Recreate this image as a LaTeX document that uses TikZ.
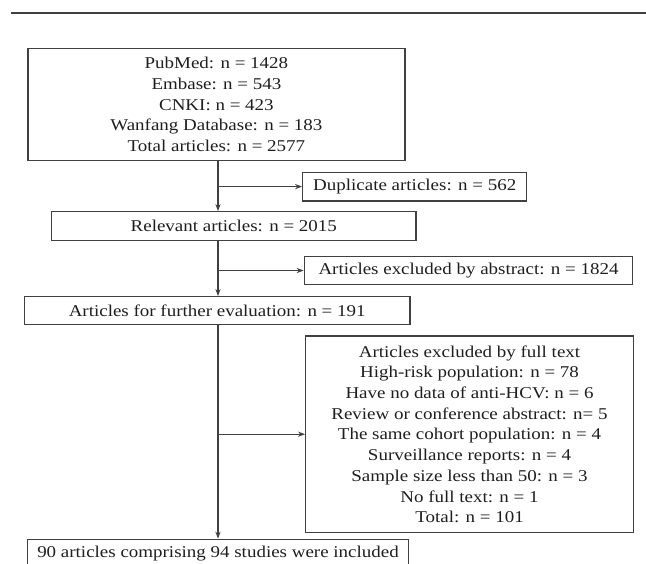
\documentclass[tikz,border=0pt]{standalone}
\usepackage{fontspec}
\setmainfont[FakeStretch=1.15]{Liberation Serif}
\usetikzlibrary{arrows.meta}
\definecolor{linec}{HTML}{404040}
\definecolor{textc}{HTML}{1E1E1E}
\tikzset{
  box/.style={draw=linec, line width=0.65pt, rectangle, inner sep=0pt, align=center,
    text=textc, font=\fontsize{8.25pt}{10.35pt}\selectfont},
  arr/.style={draw=linec, line width=0.65pt, -{Stealth[length=3.5pt,width=2.6pt]}},
  plainline/.style={draw=linec, line width=0.65pt}
}
\begin{document}
\begin{tikzpicture}[x=0.5pt,y=-0.5pt]
\useasboundingbox (0,0) rectangle (646,563);
\coordinate (rl) at (11,12.7);
\coordinate (rr) at (646,12.7);
\draw[draw=linec, line width=0.8pt] (rl) -- (rr);
\coordinate (tx) at (218,0);
\node[box, minimum width=188.5pt, minimum height=56.2pt] (src) at (216.4,104.5)
  {PubMed: n = 1428\\Embase: n = 543\\CNKI: n = 423\\Wanfang Database: n = 183\\Total articles: n = 2577};
\node[box, minimum width=112pt, minimum height=14.35pt] (dup) at (414.7,186.6)
  {Duplicate articles: n = 562};
\node[box, minimum width=182.15pt, minimum height=14.4pt] (rel) at (233.8,226.1)
  {Relevant articles: n = 2015};
\node[box, minimum width=164.2pt, minimum height=13.8pt] (abs) at (468.5,270.5)
  {Articles excluded by abstract: n = 1824};
\node[box, minimum width=192.85pt, minimum height=14pt] (fur) at (217.2,310.7)
  {Articles for further evaluation: n = 191};
\node[box, minimum width=163.8pt, minimum height=98.15pt] (full) at (469.5,434.2)
  {Articles excluded by full text\\High-risk population: n = 78\\Have no data of anti-HCV: n = 6\\Review or conference abstract: n= 5\\The same cohort population: n = 4\\Surveillance reports: n = 4\\Sample size less than 50: n = 3\\No full text: n = 1\\Total: n = 101};
\node[box, minimum width=190.3pt, minimum height=14pt] (inc) at (218,553.3)
  {90 articles comprising 94 studies were included};
\draw[arr] (src.south -| tx) -- (rel.north -| tx);
\draw[arr] (dup.west -| tx) -- (dup.west);
\draw[arr] (rel.south -| tx) -- (fur.north -| tx);
\draw[arr] (abs.west -| tx) -- (abs.west);
\draw[arr] (fur.south -| tx) -- (inc.north -| tx);
\draw[arr] (full.west -| tx) -- (full.west);
\end{tikzpicture}
\end{document}
